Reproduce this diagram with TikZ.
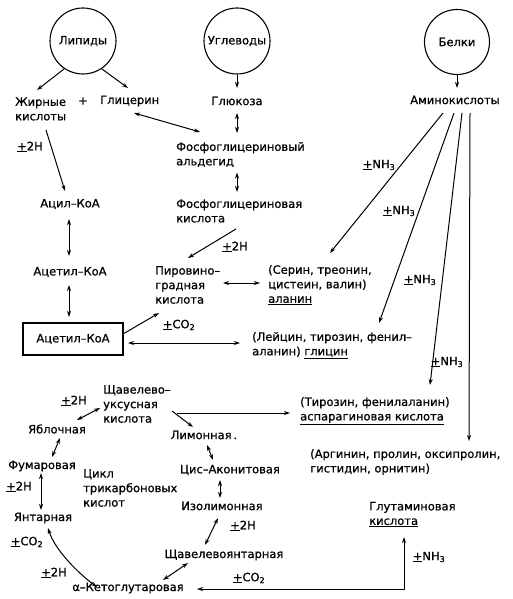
\documentclass[tikz,border=0pt]{standalone}
\usepackage{fontspec}
\setmainfont{DejaVu Sans}[FakeBold=0.8]
\usetikzlibrary{arrows.meta,calc}
\begin{document}
\begin{tikzpicture}[x=1pt,y=-1pt,
  every node/.style={font=\fontsize{11.5}{14.5}\selectfont},
  txt/.style={inner sep=0pt},
  blob/.style={circle,draw,line width=1.1pt,minimum size=66pt,inner sep=0pt},
  tip/.tip={Stealth[length=6pt,width=4pt]},
  arr/.style={line width=1pt,-tip},
  darr/.style={line width=1pt,tip-tip},
  boxed/.style={draw,line width=1.1pt,minimum width=100pt,minimum height=32pt,inner sep=0pt}
]
\useasboundingbox (0,0) rectangle (513,599);
% top circles
\node[blob] (lip) at (83,41) {Липиды};
\node[blob] (ugl) at (237,41) {Углеводы};
\node[blob,minimum size=65pt] (bel) at (457,42) {Белки};
% second row
\node[txt,anchor=west,align=left] (zhir) at (15,109) {Жирные\\кислоты};
\node[txt] (plus) at (83,101) {+};
\node[txt,anchor=west] (glic) at (100,101) {Глицерин};
\node[txt] (gluk) at (237,101) {Глюкоза};
\node[txt] (amino) at (455,100) {Аминокислоты};
% glycolysis
\node[txt,anchor=west,align=left] (fald) at (176,154.5) {Фосфоглицериновый\\альдегид};
\node[txt,anchor=west,align=left] (fkis) at (176,211) {Фосфоглицериновая\\кислота};
\node[txt,anchor=west,align=left] (pir) at (155,285) {Пировино–\\градная\\кислота};
\node[txt] (h2) at (235,247) {\underline{+}2H};
\node[txt] (co2a) at (179,325) {\underline{+}CO\textsubscript{2}};
% lipid column
\node[txt] (h1) at (30,147) {\underline{+}2H};
\node[txt] (acil) at (70,204) {Ацил–КоА};
\node[txt] (acet) at (70,272) {Ацетил–КоА};
\node[txt,boxed] (acetbox) at (73,339) {Ацетил–КоА};
% amino acids
\node[txt,anchor=west,align=left] (ser) at (268,285) {(Серин, треонин,\\цистеин, валин)\\\underline{аланин}};
\node[txt,anchor=west,align=left] (lei) at (252,345.5) {(Лейцин, тирозин, фенил–\\аланин) \underline{глицин}};
\node[txt,anchor=west,align=left] (tir) at (300,411) {(Тирозин, фенилаланин)\\\underline{аспарагиновая кислота}};
\node[txt,anchor=west,align=left] (arg) at (310,462) {(Аргинин, пролин, оксипролин,\\гистидин, орнитин)};
\node[txt,anchor=west,align=left] (glut) at (369,514.5) {Глутаминовая\\\underline{кислота}};
\node[txt] (nh1) at (379,165) {\underline{+}NH\textsubscript{3}};
\node[txt] (nh2) at (399,211) {\underline{+}NH\textsubscript{3}};
\node[txt] (nh3) at (420,280) {\underline{+}NH\textsubscript{3}};
\node[txt] (nh4) at (447,362) {\underline{+}NH\textsubscript{3}};
\node[txt] (nh5) at (429,557) {\underline{+}NH\textsubscript{3}};
\node[txt] (co2b) at (249,578) {\underline{+}CO\textsubscript{2}};
% Krebs cycle
\node[txt,anchor=west,align=left] (shuk) at (103,404) {Щавелево–\\уксусная\\кислота};
\node[txt] (h3) at (74,401) {\underline{+}2H};
\node[txt] (yab) at (57,429) {Яблочная};
\node[txt] (fum) at (42,466) {Фумаровая};
\node[txt] (h4) at (19,487) {\underline{+}2H};
\node[txt] (yant) at (43,518) {Янтарная};
\node[txt] (co2c) at (27,542) {\underline{+}CO\textsubscript{2}};
\node[txt] (h5) at (54,573) {\underline{+}2H};
\node[txt] (akg) at (128,588) {α–Кетоглутаровая};
\node[txt] (shy) at (224,555) {Щавелевоянтарная};
\node[txt] (h6) at (243,526) {\underline{+}2H};
\node[txt] (izo) at (222,506) {Изолимонная};
\node[txt] (cis) at (230,470) {Цис–Аконитовая};
\node[txt] (lim) at (204,435) {Лимонная\,.};
\node[txt,anchor=west,align=left] (cikl) at (83,488) {Цикл\\трикарбоновых\\кислот};
% connectors
\draw[arr] (lip.236) -- ($(zhir.west)+(22,-19)$);
\draw[arr] (lip.304) -- ($(glic.west)+(28,-13)$);
\draw[arr] (ugl.south) -- ($(gluk)+(0,-13)$);
\draw[arr] (bel.south) -- ($(amino)+(2,-12)$);
\draw[darr] ($(gluk)+(0,12)$) -- ($(fald.west)+(61,-21.5)$);
\draw[darr] ($(glic.west)+(34,12)$) -- ($(fald.west)+(24,-22.5)$);
\draw[darr] ($(fald.west)+(61,18)$) -- ($(fkis.west)+(61,-19)$);
\draw[arr] ($(fkis.west)+(60,18)$) -- ($(pir.west)+(33,-27)$);
\draw[arr] ($(acetbox)+(50,-5)$) -- ($(pir.west)+(4,28)$);
\draw[darr] ($(pir.west)+(68,-2)$) -- ($(ser.west)+(-8,-2)$);
\draw[darr] ($(acetbox)+(55,4)$) -- ($(lei.west)+(-12,-2.5)$);
\draw[arr] ($(zhir.west)+(31,21)$) -- ($(acil)+(-5,-13)$);
\draw[darr] ($(acil)+(-1,15)$) -- ($(acet)+(-1,-16)$);
\draw[darr] ($(acet)+(-1,13)$) -- ($(acetbox)+(-4,-22)$);
\draw[arr] ($(amino)+(-12,13)$) -- ($(ser.west)+(62,-32)$);
\draw[arr] ($(amino)+(-1,13)$) -- ($(lei.west)+(127,-22.5)$);
\draw[arr] ($(amino)+(7,13)$) -- ($(tir.west)+(130,-26)$);
\draw[arr] ($(amino)+(15,13)$) -- ($(arg.west)+(159,-21)$);
\draw[arr] ($(shuk.west)+(69,7)$) -- ($(lim)+(-11,-8)$);
\draw[arr] ($(shuk.west)+(74,9)$) -- ($(tir.west)+(-10,2)$);
\draw[darr] ($(shuk.west)+(-3,4)$) -- ($(yab)+(20,-9)$);
\draw[darr] ($(yab)+(3,9)$) -- ($(fum)+(10,-9)$);
\draw[darr] ($(fum)+(-1,7)$) -- ($(yant)+(-2,-8)$);
\draw[darr] ($(yant)+(5,10)$) .. controls ($(yant)+(12,32)$) and ($(akg)+(-50,-15)$) .. ($(akg)+(-31,-1)$);
\draw[darr] ($(akg)+(35,-8)$) -- ($(shy)+(-36,8)$);
\draw[darr] ($(shy)+(-19,-10)$) -- ($(izo)+(-4,12)$);
\draw[darr] ($(cis)+(-10,10)$) -- ($(izo)+(-2,-8)$);
\draw[darr] ($(lim)+(3,10)$) -- ($(cis)+(-17,-10)$);
\draw[darr] ($(akg)+(69,1)$) -| ($(glut.west)+(35,22.5)$);
\end{tikzpicture}
\end{document}
